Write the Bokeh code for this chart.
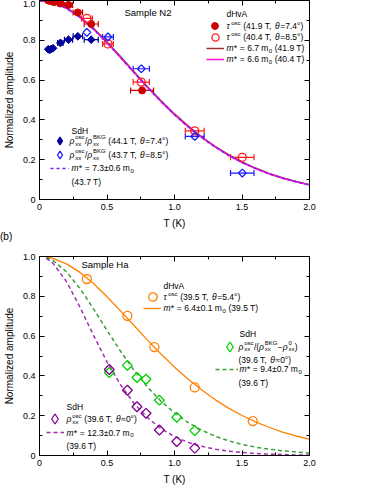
import math
from bokeh.plotting import figure
from bokeh.models import (Range1d, FixedTicker, LinearAxis, CustomJSTickFormatter,
                          ColumnDataSource, Whisker, TeeHead, Label, Legend, LegendItem, Div)
from bokeh.layouts import column
from bokeh.embed import file_html
from bokeh.resources import INLINE

# ---------------- axes ----------------
x_ticks = [0, 0.5, 1.0, 1.5, 2.0]
x_tick_labels = ["0", "0.5", "1.0", "1.5", "2.0"]
x_minor = [0.25, 0.75, 1.25, 1.75]
y_ticks = [0, 0.2, 0.4, 0.6, 0.8, 1.0]
y_tick_labels = ["0", "0.2", "0.4", "0.6", "0.8", "1.0"]
y_minor = [0.1, 0.3, 0.5, 0.7, 0.9]

# ---------------- panel (a): Sample N2 ----------------
n2_dhva419_T = [0.065, 0.080, 0.095, 0.110, 0.155, 0.215, 0.284, 0.383, 0.760]
n2_dhva419_amp = [1.000, 0.998, 0.995, 0.992, 0.985, 0.978, 0.940, 0.882, 0.548]
n2_dhva419_err = [0.0, 0.0, 0.0, 0.0, 0.020, 0.030, 0.035, 0.052, 0.085]

n2_dhva404_T = [0.351, 0.507, 0.754, 1.150, 1.502]
n2_dhva404_amp = [0.910, 0.782, 0.590, 0.345, 0.212]
n2_dhva404_err = [0.040, 0.040, 0.060, 0.070, 0.087]

n2_sdh441_T = [0.065, 0.075, 0.085, 0.100, 0.155, 0.215, 0.284, 0.383]
n2_sdh441_amp = [0.755, 0.752, 0.756, 0.760, 0.787, 0.803, 0.820, 0.803]
n2_sdh441_err = [0.0, 0.0, 0.0, 0.0, 0.020, 0.030, 0.035, 0.052]

n2_sdh437_T = [0.351, 0.507, 0.754, 1.150, 1.502]
n2_sdh437_amp = [0.840, 0.817, 0.657, 0.317, 0.133]
n2_sdh437_err = [0.0, 0.040, 0.060, 0.070, 0.087]

n2_fit_T = [0.0, 0.1, 0.2, 0.3, 0.4, 0.5, 0.6, 0.7, 0.8, 0.9, 1.0,
            1.1, 1.2, 1.3, 1.4, 1.5, 1.6, 1.7, 1.8, 1.9, 2.0]
n2_fit_m67 = [1.0, 0.991, 0.963, 0.918, 0.860, 0.792, 0.718, 0.642, 0.567, 0.496, 0.430,
              0.370, 0.315, 0.267, 0.225, 0.189, 0.158, 0.131, 0.109, 0.090, 0.074]
n2_fit_m66 = [1.0, 0.990, 0.961, 0.915, 0.856, 0.788, 0.714, 0.638, 0.563, 0.492, 0.426,
              0.366, 0.312, 0.264, 0.222, 0.186, 0.156, 0.129, 0.107, 0.089, 0.073]
n2_fit_m73 = [1.0, 0.990, 0.961, 0.915, 0.856, 0.788, 0.714, 0.638, 0.563, 0.492, 0.426,
              0.366, 0.312, 0.264, 0.222, 0.186, 0.156, 0.129, 0.107, 0.089, 0.073]

# ---------------- panel (b): Sample Ha ----------------
ha_dhva_T = [0.351, 0.651, 0.851, 1.150, 1.580]
ha_dhva_amp = [0.887, 0.702, 0.545, 0.342, 0.173]

ha_sdh_ratio_T = [0.517, 0.651, 0.722, 0.789, 0.888, 1.017, 1.150]
ha_sdh_ratio_amp = [0.417, 0.453, 0.392, 0.383, 0.278, 0.192, 0.125]

ha_sdh_rho_T = [0.517, 0.651, 0.722, 0.789, 0.888, 1.017, 1.150]
ha_sdh_rho_amp = [0.432, 0.328, 0.245, 0.212, 0.128, 0.070, 0.037]

ha_fit_T = [0.05, 0.1, 0.2, 0.3, 0.4, 0.5, 0.6, 0.7, 0.8, 0.9, 1.0,
            1.1, 1.2, 1.3, 1.4, 1.5, 1.6, 1.7, 1.8, 1.9, 2.0]
ha_fit_m64 = [0.998, 0.991, 0.963, 0.920, 0.864, 0.798, 0.727, 0.653, 0.580, 0.510, 0.444,
              0.384, 0.330, 0.281, 0.238, 0.201, 0.169, 0.142, 0.118, 0.098, 0.082]
ha_fit_m94 = [0.995, 0.980, 0.923, 0.839, 0.737, 0.629, 0.524, 0.428, 0.344, 0.273, 0.214,
              0.166, 0.128, 0.097, 0.074, 0.056, 0.042, 0.032, 0.024, 0.018, 0.013]
ha_fit_m123 = [0.991, 0.966, 0.874, 0.745, 0.604, 0.471, 0.356, 0.262, 0.190, 0.135, 0.095,
               0.066, 0.046, 0.032, 0.022, 0.015, 0.010, 0.007, 0.005, 0.003, 0.002]

# ---------------- styling / layout constants ----------------
FONT = "Liberation Sans"
FW, FH = 270, 199
REF_H = 200.0
PX_PER_K = FW / 2.0

C_RED_F = "#cc0000"
C_RED_O = "#ff1a1a"
C_BLUE_F = "#00009a"
C_BLUE_O = "#1a1aff"
C_BROWN = "#9a3030"
C_MAGENTA = "#ff10d0"
C_VIOLET = "#7a20ff"
C_ORANGE = "#ff8000"
C_GREEN_M = "#00d000"
C_GREEN_L = "#3a9e3a"
C_PURPLE_M = "#800090"
C_PURPLE_L = "#a030b0"

EM = {' ': 0.278, '(': 0.333, ')': 0.333, '.': 0.278, ',': 0.278, '=': 0.584,
      '°': 0.4, '±': 0.584, '/': 0.278, '−': 0.584, '≈': 0.584, '*': 0.389,
      'T': 0.611, 'm': 0.833, 'θ': 0.556, 'τ': 0.45, 'ρ': 0.57, 'o': 0.556,
      's': 0.5, 'c': 0.5, 'x': 0.5, 'B': 0.667, 'K': 0.667, 'G': 0.778}


def tw(s, size):
    return sum(EM.get(ch, 0.556) for ch in s) * size


def add_text(p, dx, dy, text, size, style="normal", color="black"):
    # dx, dy: offsets in px from the frame's top-left corner (reference scale)
    p.add_layout(Label(x=dx / PX_PER_K, y=1 - dy / REF_H, x_units="data", y_units="data",
                       text=text, text_font=FONT, text_font_size=f"{size}px",
                       text_font_style=style, text_color=color,
                       text_baseline="middle", text_align="left"))


def rich(p, dx, dy, pieces, fs=8.5, ss=6.0):
    x = dx
    sp = EM[' '] * fs
    for piece in pieces:
        kind = piece[0]
        if kind in ("n", "i"):
            s = piece[1]
            lead = len(s) - len(s.lstrip(' '))
            trail = len(s) - len(s.rstrip(' '))
            core = s.strip(' ')
            x += lead * sp
            add_text(p, x, dy, core, fs, "italic" if kind == "i" else "normal")
            x += tw(core, fs) + trail * sp + (0.6 if kind == "i" else 0)
        elif kind == "sup":
            add_text(p, x + 0.3, dy - 3.4, piece[1], ss)
            x += tw(piece[1], ss) + 0.6
        elif kind == "sub":
            add_text(p, x + 0.3, dy + 2.6, piece[1], ss)
            x += tw(piece[1], ss) + 0.6
        elif kind == "ss":
            add_text(p, x + 0.3, dy - 3.4, piece[1], ss)
            add_text(p, x + 0.3, dy + 2.8, piece[2], ss)
            x += max(tw(piece[1], ss), tw(piece[2], ss)) + 0.6


def glyph_key(p, renderer, cx, cy, gw, gh):
    sy = cy * FH / REF_H
    gw, gh = int(round(gw)), int(round(gh))
    leg = Legend(items=[LegendItem(label=" ", renderers=[renderer])],
                 location=(cx - gw / 2.0, FH - sy - gh / 2.0),
                 orientation="vertical", padding=0, margin=0, spacing=0,
                 glyph_width=gw, glyph_height=gh, label_standoff=0, label_width=0,
                 label_height=gh, label_text_font_size="1px",
                 border_line_alpha=0, background_fill_alpha=0)
    p.add_layout(leg)


def style_axis(ax):
    ax.major_tick_in = 5
    ax.major_tick_out = 0
    ax.minor_tick_in = 3
    ax.minor_tick_out = 0
    ax.axis_line_color = "black"
    ax.major_tick_line_color = "black"
    ax.minor_tick_line_color = "black"
    ax.major_label_text_font = FONT
    ax.major_label_text_font_size = "9px"
    ax.major_label_text_color = "black"
    ax.major_label_standoff = 4
    ax.axis_label_text_font = FONT
    ax.axis_label_text_font_size = "10px"
    ax.axis_label_text_font_style = "normal"
    ax.axis_label_text_color = "black"
    ax.axis_label_standoff = 5


def make_fig(border_top, border_bottom):
    p = figure(frame_width=FW, frame_height=FH, x_range=Range1d(0, 2), y_range=Range1d(0, 1),
               output_backend="svg", toolbar_location=None, title=None,
               min_border_left=30, min_border_right=14,
               min_border_top=border_top, min_border_bottom=border_bottom)
    p.title = None
    p.grid.visible = False
    p.outline_line_color = "black"
    p.outline_line_width = 1
    p.background_fill_color = "white"
    p.border_fill_color = "white"

    xa = p.xaxis[0]
    xa.ticker = FixedTicker(ticks=x_ticks, minor_ticks=x_minor)
    xa.major_label_overrides = dict(zip(x_ticks, x_tick_labels))
    xa.axis_label = "T (K)"
    style_axis(xa)
    ya = p.yaxis[0]
    ya.ticker = FixedTicker(ticks=y_ticks, minor_ticks=y_minor)
    ya.major_label_overrides = dict(zip(y_ticks, y_tick_labels))
    ya.axis_label = "Normalized amplitude"
    style_axis(ya)

    top = LinearAxis(ticker=FixedTicker(ticks=x_ticks, minor_ticks=x_minor),
                     formatter=CustomJSTickFormatter(code="return ''"))
    style_axis(top)
    top.major_label_standoff = 0
    p.add_layout(top, "above")
    right = LinearAxis(ticker=FixedTicker(ticks=y_ticks, minor_ticks=y_minor),
                       formatter=CustomJSTickFormatter(code="return ''"))
    style_axis(right)
    right.major_label_standoff = 0
    p.add_layout(right, "right")
    return p


def xerr_bars(p, T, amp, err, color):
    lo, hi, yy = [], [], []
    for t, a, e in zip(T, amp, err):
        if e > 0:
            lo.append(t - e)
            hi.append(t + e)
            yy.append(a)
    src = ColumnDataSource(dict(y=yy, lo=lo, hi=hi))
    w = Whisker(source=src, base="y", lower="lo", upper="hi", dimension="width",
                line_color=color, line_width=1.2,
                upper_head=TeeHead(size=6, line_color=color, line_width=1.2),
                lower_head=TeeHead(size=6, line_color=color, line_width=1.2))
    p.add_layout(w)


def key_marker(p, T, amp, fill, line, lw=1.3):
    # zero-size diamonds on the same data (invisible in the plot): supply the legend key shape
    return p.scatter(T, amp, marker="diamond", size=0, fill_color=fill if fill else "white",
                     fill_alpha=(1 if fill else 0), line_color=line, line_width=lw)


# ================= panel (a) =================
p1 = make_fig(0, 30)
r_m67 = p1.line(n2_fit_T, n2_fit_m67, line_color=C_BROWN, line_width=1.5)
r_m66 = p1.line(n2_fit_T, n2_fit_m66, line_color=C_MAGENTA, line_width=1.5)
r_m73 = p1.line(n2_fit_T, n2_fit_m73, line_color=C_VIOLET, line_width=1.5, line_dash="3 3")

xerr_bars(p1, n2_dhva419_T, n2_dhva419_amp, n2_dhva419_err, C_RED_F)
xerr_bars(p1, n2_dhva404_T, n2_dhva404_amp, n2_dhva404_err, C_RED_O)
xerr_bars(p1, n2_sdh441_T, n2_sdh441_amp, n2_sdh441_err, C_BLUE_F)
xerr_bars(p1, n2_sdh437_T, n2_sdh437_amp, n2_sdh437_err, C_BLUE_O)

k_a3 = key_marker(p1, n2_sdh441_T, n2_sdh441_amp, C_BLUE_F, C_BLUE_F)
k_a4 = key_marker(p1, n2_sdh437_T, n2_sdh437_amp, None, C_BLUE_O)
r_a1 = p1.scatter(n2_dhva419_T, n2_dhva419_amp, marker="circle", size=7,
                  fill_color=C_RED_F, line_color=C_RED_F)
r_a2 = p1.scatter(n2_dhva404_T, n2_dhva404_amp, marker="circle", size=8,
                  fill_color="white", fill_alpha=0, line_color=C_RED_O, line_width=1.3)
r_a3 = p1.scatter(n2_sdh441_T, n2_sdh441_amp, marker="square", angle=math.pi / 4, size=5.5,
                  fill_color=C_BLUE_F, line_color=C_BLUE_F)
r_a4 = p1.scatter(n2_sdh437_T, n2_sdh437_amp, marker="square", angle=math.pi / 4, size=5.5,
                  fill_color="white", fill_alpha=0, line_color=C_BLUE_O, line_width=1.3)

add_text(p1, 85, 12, "Sample N2", 9.5)
# dHvA key
add_text(p1, 187, 14, "dHvA", 8.5)
glyph_key(p1, r_a1, 175.5, 26, 17, 17)
glyph_key(p1, r_a2, 175.5, 37, 18, 18)
glyph_key(p1, r_m67, 176, 48, 18, 6)
glyph_key(p1, r_m66, 176, 59, 18, 6)
rich(p1, 187, 26, [("i", "τ"), ("sup", "osc"), ("n", " (41.9 T, "), ("i", "θ"), ("n", "=7.4°)")])
rich(p1, 187, 37, [("i", "τ"), ("sup", "osc"), ("n", " (40.4 T, "), ("i", "θ"), ("n", "=8.5°)")])
rich(p1, 187, 48, [("i", "m*"), ("n", " = 6.7 m"), ("sub", "0"), ("n", " (41.9 T)")])
rich(p1, 187, 59, [("i", "m*"), ("n", " = 6.6 m"), ("sub", "0"), ("n", " (40.4 T)")])
# SdH key
add_text(p1, 32, 131, "SdH", 8.5)
glyph_key(p1, k_a3, 20, 141, 19, 19)
glyph_key(p1, k_a4, 20, 155, 19, 19)
glyph_key(p1, r_m73, 20, 168.5, 19, 6)
rich(p1, 30, 141, [("i", "ρ"), ("ss", "osc", "xx"), ("n", "/"), ("i", "ρ"), ("ss", "BKG", "xx"),
                   ("n", " (44.1 T, "), ("i", "θ"), ("n", "=7.4°)")])
rich(p1, 30, 155, [("i", "ρ"), ("ss", "osc", "xx"), ("n", "/"), ("i", "ρ"), ("ss", "BKG", "xx"),
                   ("n", " (43.7 T, "), ("i", "θ"), ("n", "=8.5°)")])
rich(p1, 32, 168.5, [("i", "m*"), ("n", " = 7.3±0.6 m"), ("sub", "0")])
add_text(p1, 32, 182, "(43.7 T)", 8.5)

# panel tag
tag_b = Div(text="(b)", width=40, height=12, margin=(0, 0, 0, 0),
            styles={"font-family": FONT, "font-size": "10px", "line-height": "12px",
                    "color": "black"})

# ================= panel (b) =================
p2 = make_fig(13, 0)
r_o = p2.line(ha_fit_T, ha_fit_m64, line_color=C_ORANGE, line_width=1.3)
r_g = p2.line(ha_fit_T, ha_fit_m94, line_color=C_GREEN_L, line_width=1.5, line_dash="4 3")
r_p = p2.line(ha_fit_T, ha_fit_m123, line_color=C_PURPLE_L, line_width=1.5, line_dash="4 3")

k_b2 = key_marker(p2, ha_sdh_ratio_T, ha_sdh_ratio_amp, None, C_GREEN_M)
k_b3 = key_marker(p2, ha_sdh_rho_T, ha_sdh_rho_amp, None, C_PURPLE_M)
r_b1 = p2.scatter(ha_dhva_T, ha_dhva_amp, marker="circle", size=9,
                  fill_color="white", fill_alpha=0, line_color=C_ORANGE, line_width=1.3)
r_b2 = p2.scatter(ha_sdh_ratio_T, ha_sdh_ratio_amp, marker="square", angle=math.pi / 4, size=7,
                  fill_color="white", fill_alpha=0, line_color=C_GREEN_M, line_width=1.3)
r_b3 = p2.scatter(ha_sdh_rho_T, ha_sdh_rho_amp, marker="square", angle=math.pi / 4, size=7,
                  fill_color="white", fill_alpha=0, line_color=C_PURPLE_M, line_width=1.3)

add_text(p2, 42, 8, "Sample Ha", 9.5)
# dHvA key
add_text(p2, 124, 30, "dHvA", 8.5)
glyph_key(p2, r_b1, 113.5, 41, 21, 21)
glyph_key(p2, r_o, 113, 52, 18, 6)
rich(p2, 124, 41, [("i", "τ"), ("sup", "osc"), ("n", " (39.5 T, "), ("i", "θ"), ("n", "=5.4°)")])
rich(p2, 124, 52, [("i", "m*"), ("n", " = 6.4±0.1 m"), ("sub", "0"), ("n", " (39.5 T)")])
# SdH (ratio) key
add_text(p2, 200, 77.5, "SdH", 8.5)
glyph_key(p2, k_b2, 190, 90.5, 25, 25)
rich(p2, 199, 90.5, [("i", "ρ"), ("ss", "osc", "xx"), ("n", "/("), ("i", "ρ"), ("ss", "BKG", "xx"),
                     ("n", "−"), ("i", "ρ"), ("ss", "0", "xx"), ("n", ")")])
rich(p2, 199, 104, [("n", "(39.6 T, "), ("i", "θ"), ("n", "≈0°)")])
glyph_key(p2, r_g, 187, 113.5, 23, 6)
rich(p2, 200, 113.5, [("i", "m*"), ("n", " = 9.4±0.7 m"), ("sub", "0")])
add_text(p2, 199, 127, "(39.6 T)", 8.5)
# SdH (rho) key
add_text(p2, 27, 151, "SdH", 8.5)
glyph_key(p2, k_b3, 15.5, 163.5, 25, 25)
rich(p2, 27, 163.5, [("i", "ρ"), ("ss", "osc", "xx"), ("n", " (39.6 T, "), ("i", "θ"), ("n", "≈0°)")])
glyph_key(p2, r_p, 16, 177, 18, 6)
rich(p2, 27, 177, [("i", "m*"), ("n", " = 12.3±0.7 m"), ("sub", "0")])
add_text(p2, 27, 190.5, "(39.6 T)", 8.5)

layout = column(p1, tag_b, p2, spacing=0)
open("out.html", "w").write(file_html(layout, INLINE))
